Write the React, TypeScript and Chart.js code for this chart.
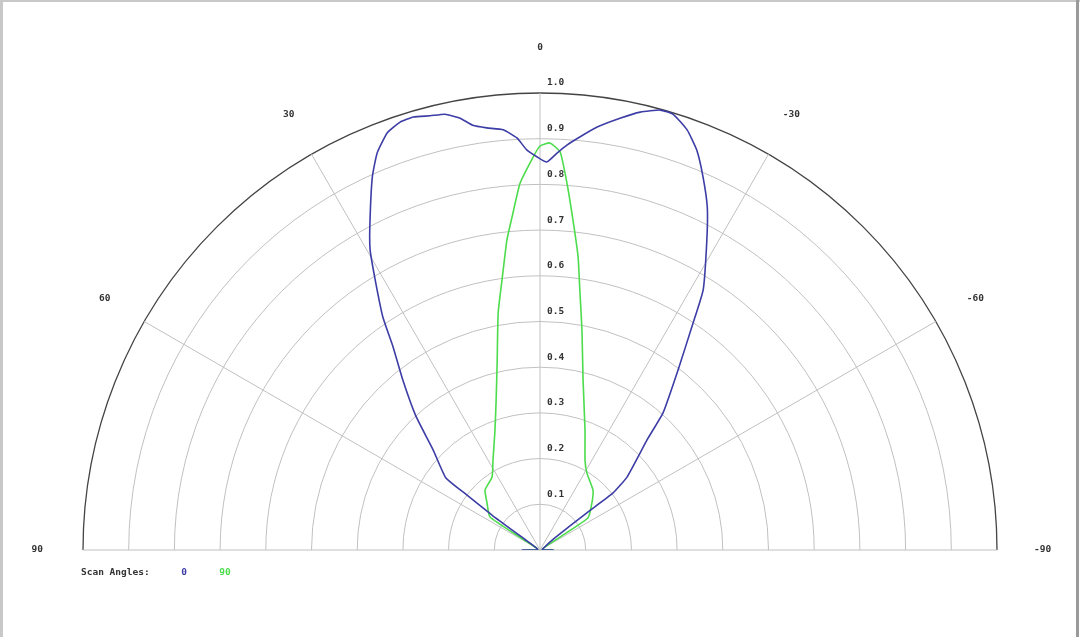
import {useEffect, useRef} from "react";
import {Chart, registerables} from "chart.js";

Chart.register(...registerables);

// scan angle 0 (blue), degrees from boresight -> normalised amplitude
const blueAngles = [
  90, 85, 60, 55, 54, 53, 52.5, 46.9, 42.8, 38.9, 35.9, 34.0, 31.4, 29.5, 27.5,
  24.2, 22.3, 20.1, 18.1, 16.3, 14.2, 12.3, 10.5, 9.0, 7.2, 5.0, 3.2, 1.9, 0.4,
  -1.0, -2.5, -3.8, -5.5, -7.7, -10.5, -12.9, -15.3, -17.0, -19.3, -21.4, -23.6,
  -26.0, -28.3, -32.1, -34.0, -37.5, -41.9, -44.2, -50.0, -52.0, -51.5, -51,
  -60, -85, -90,
];
const blueRadii = [
  0.04, 0.005, 0.01, 0.04, 0.13, 0.21, 0.26, 0.32, 0.4, 0.478, 0.548, 0.615,
  0.692, 0.755, 0.806, 0.895, 0.939, 0.972, 0.985, 0.987, 0.98, 0.976, 0.961,
  0.941, 0.931, 0.923, 0.903, 0.876, 0.86, 0.849, 0.87, 0.888, 0.908, 0.934,
  0.961, 0.983, 0.998, 0.997, 0.974, 0.94, 0.891, 0.835, 0.77, 0.672, 0.599,
  0.496, 0.403, 0.336, 0.249, 0.203, 0.13, 0.04, 0.01, 0.005, 0.03,
];

// scan angle 90 (green)
const greenAngles = [
  90, 85, 60, 57.5, 56.6, 48.4, 42.5, 33.3, 27.6, 20.6, 16.3, 12.9, 10.0, 8.0,
  6.1, 4.8, 3.1, 1.0, 0, -1.4, -2.9, -4.2, -5.7, -7.4, -8.7, -10.8, -14.2,
  -20.6, -26.6, -31.4, -41.5, -47.9, -56.3, -57, -60, -85, -90,
];
const greenRadii = [
  0.035, 0.005, 0.01, 0.05, 0.131, 0.155, 0.178, 0.191, 0.222, 0.28, 0.342, 0.42,
  0.527, 0.597, 0.682, 0.731, 0.804, 0.86, 0.884, 0.891, 0.872, 0.805, 0.726,
  0.647, 0.576, 0.49, 0.384, 0.28, 0.22, 0.197, 0.175, 0.153, 0.126, 0.05,
  0.01, 0.005, 0.03,
];

const ringValues = [0.1, 0.2, 0.3, 0.4, 0.5, 0.6, 0.7, 0.8, 0.9, 1.0];
const spokeAngles = [90, 60, 30, 0, -30, -60, -90];
const legendTitle = "Scan Angles:";

const toXY = (angles: number[], radii: number[]) =>
  angles.map((a, i) => ({
    x: -radii[i] * Math.sin((a * Math.PI) / 180),
    y: radii[i] * Math.cos((a * Math.PI) / 180),
  }));

const FONT = 'bold 9.5px "DejaVu Sans Mono", monospace';

const polarGrid = {
  id: "polarGrid",
  beforeDatasetsDraw(chart: any) {
    const {ctx, scales} = chart;
    const cx = scales.x.getPixelForValue(0);
    const cy = scales.y.getPixelForValue(0);
    const unit = scales.x.getPixelForValue(1) - cx;
    ctx.save();
    ringValues.forEach((r) => {
      ctx.beginPath();
      ctx.lineWidth = r === 1 ? 1.3 : 1;
      ctx.strokeStyle = r === 1 ? "#444" : "#c0c0c0";
      ctx.arc(cx, cy, r * unit, Math.PI, 2 * Math.PI);
      ctx.stroke();
    });
    ctx.lineWidth = 1;
    ctx.strokeStyle = "#c0c0c0";
    spokeAngles.forEach((a) => {
      const t = (a * Math.PI) / 180;
      ctx.beginPath();
      ctx.moveTo(cx, cy);
      ctx.lineTo(cx - unit * Math.sin(t), cy - unit * Math.cos(t));
      ctx.stroke();
    });
    ctx.restore();
  },
  afterDraw(chart: any) {
    const {ctx, scales, width, height} = chart;
    const cx = scales.x.getPixelForValue(0);
    const cy = scales.y.getPixelForValue(0);
    const unit = scales.x.getPixelForValue(1) - cx;
    ctx.save();
    ctx.font = FONT;
    ctx.fillStyle = "#333";
    ctx.textBaseline = "middle";
    ctx.textAlign = "left";
    ringValues.forEach((r) => {
      ctx.fillText(r.toFixed(1), cx + 7, cy - r * unit - 10);
    });
    ctx.textAlign = "center";
    spokeAngles.forEach((a) => {
      const t = (a * Math.PI) / 180;
      ctx.fillText(String(a), cx - 1.1 * unit * Math.sin(t), cy - 1.1 * unit * Math.cos(t));
    });
    // legend
    const ly = cy + 23;
    ctx.textAlign = "left";
    ctx.fillText(legendTitle, 81, ly);
    ctx.textAlign = "center";
    const lx = [184, 225];
    chart.data.datasets.forEach((ds: any, i: number) => {
      ctx.fillStyle = ds.borderColor;
      ctx.fillText(ds.label, lx[i], ly);
    });
    // frame
    ctx.fillStyle = "#c8c8c8";
    ctx.fillRect(0, 0, 3, height);
    ctx.fillRect(0, 0, width, 2);
    ctx.fillStyle = "#9a9a9a";
    ctx.fillRect(width - 4, 0, 3, height);
    ctx.restore();
  },
};

const App = () => {
  const canvasRef = useRef<HTMLCanvasElement>(null);

  useEffect(() => {
    if (!canvasRef.current) return;
    const chart = new Chart(canvasRef.current, {
      type: "scatter",
      data: {
        datasets: [
          {
            label: "0",
            data: toXY(blueAngles, blueRadii),
            showLine: true,
            borderColor: "#3d3da6",
            borderWidth: 1.6,
            pointRadius: 0,
            tension: 0.15,
          },
          {
            label: "90",
            data: toXY(greenAngles, greenRadii),
            showLine: true,
            borderColor: "#4cdc4c",
            borderWidth: 1.6,
            pointRadius: 0,
            tension: 0.15,
          },
        ],
      },
      options: {
        responsive: false,
        animation: false,
        devicePixelRatio: 1,
        layout: {padding: {left: 83, right: 83, top: 93, bottom: 87}},
        scales: {
          x: {type: "linear", min: -1, max: 1, display: false},
          y: {type: "linear", min: 0, max: 1, display: false},
        },
        plugins: {legend: {display: false}, tooltip: {enabled: false}},
        elements: {line: {borderJoinStyle: "round"}},
      },
      plugins: [polarGrid],
    });
    return () => chart.destroy();
  }, []);

  return (
    <div style={{position: "fixed", left: 0, top: 0, width: 1080, height: 637, background: "#fff"}}>
      <canvas ref={canvasRef} width={1080} height={637}></canvas>
    </div>
  );
};

export default App;
